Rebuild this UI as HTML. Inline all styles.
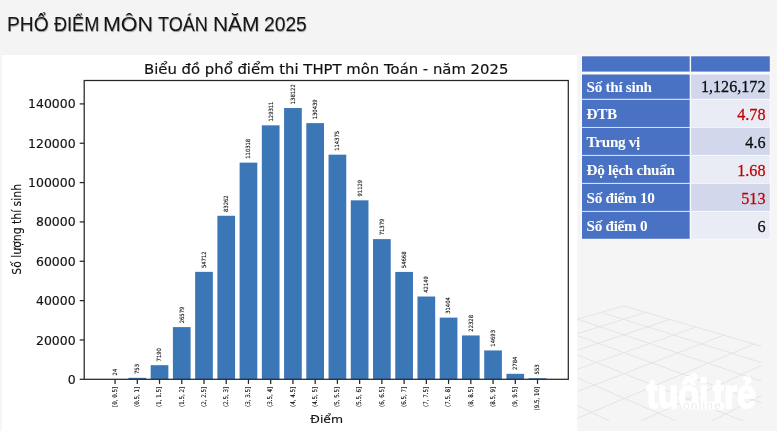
<!DOCTYPE html>
<html lang="vi"><head><meta charset="utf-8"><title>Phổ điểm môn Toán năm 2025</title>
<style>
html,body{margin:0;padding:0}
body{width:777px;height:431px;overflow:hidden;background:#f4f4f4;position:relative;font-family:"Liberation Sans",sans-serif}
h1{position:absolute;left:0;top:9.4px;margin:0;font-weight:400;font-size:19.6px;line-height:30px;color:#161616;white-space:nowrap;text-shadow:0.5px 0.7px 0.9px rgba(0,0,0,.4)}
h1 span{position:absolute;top:0;transform-origin:0 0;display:block}
svg{position:absolute;left:0;top:0}
</style></head><body>
<svg class="deco" width="777" height="431" viewBox="0 0 777 431">
<defs><clipPath id="gc"><rect x="577" y="290" width="184.5" height="131"/></clipPath></defs>
<rect x="577" y="48" width="200" height="383" fill="#f5f5f5"/>
<g clip-path="url(#gc)" stroke="#e4e4e4" stroke-width="1" fill="none">
<line x1="623.4" y1="305.9" x2="1004.5" y2="417.4"/>
<line x1="601.2" y1="312.3" x2="987.5" y2="433.5"/>
<line x1="577.6" y1="319.2" x2="968.8" y2="451.3"/>
<line x1="552.5" y1="326.5" x2="947.9" y2="471.1"/>
<line x1="525.6" y1="334.3" x2="924.5" y2="493.3"/>
<line x1="496.9" y1="342.6" x2="898.3" y2="518.2"/>
<line x1="466.1" y1="351.6" x2="868.4" y2="546.5"/>
<line x1="432.9" y1="361.2" x2="834.3" y2="578.8"/>
<line x1="397.1" y1="371.6" x2="794.9" y2="616.2"/>
<line x1="358.4" y1="382.8" x2="748.9" y2="659.8"/>
<line x1="316.4" y1="395.0" x2="694.5" y2="711.5"/>
<line x1="270.6" y1="408.3" x2="629.0" y2="773.6"/>
<line x1="623.4" y1="305.9" x2="270.6" y2="408.3"/>
<line x1="645.8" y1="312.4" x2="285.8" y2="423.8"/>
<line x1="669.9" y1="319.5" x2="302.6" y2="441.0"/>
<line x1="695.8" y1="327.1" x2="321.5" y2="460.2"/>
<line x1="723.7" y1="335.2" x2="342.8" y2="481.9"/>
<line x1="753.9" y1="344.1" x2="367.0" y2="506.6"/>
<line x1="786.8" y1="353.7" x2="394.7" y2="534.8"/>
<line x1="822.5" y1="364.1" x2="426.8" y2="567.5"/>
<line x1="861.6" y1="375.6" x2="464.4" y2="605.8"/>
<line x1="904.6" y1="388.2" x2="509.0" y2="651.3"/>
<line x1="952.0" y1="402.0" x2="562.8" y2="706.1"/>
<line x1="1004.5" y1="417.4" x2="629.0" y2="773.6"/>
</g>
<rect x="1.5" y="55" width="575.8" height="377" fill="#fff"/>
</svg>
<h1><span style="left:6.69px;transform:scaleX(0.979)">PHỔ</span> <span style="left:54.0px;transform:scaleX(0.925)">ĐIỂM</span> <span style="left:103.2px;transform:scaleX(1.095)">MÔN</span> <span style="left:157.8px;transform:scaleX(0.921)">TOÁN</span> <span style="left:213.4px;transform:scaleX(1.065)">NĂM</span> <span style="left:264.3px;transform:scaleX(0.981)">2025</span></h1>
<svg class="chart" width="777" height="431" viewBox="0 0 777 431" style="font-family:&quot;DejaVu Sans&quot;,&quot;Liberation Sans&quot;,sans-serif">
<rect x="106.20" y="379.25" width="17.70" height="0.05" fill="#3b77b6"/>
<rect x="128.44" y="377.82" width="17.70" height="1.48" fill="#3b77b6"/>
<rect x="150.67" y="365.18" width="17.70" height="14.12" fill="#3b77b6"/>
<rect x="172.91" y="327.10" width="17.70" height="52.20" fill="#3b77b6"/>
<rect x="195.14" y="271.85" width="17.70" height="107.45" fill="#3b77b6"/>
<rect x="217.38" y="215.77" width="17.70" height="163.53" fill="#3b77b6"/>
<rect x="239.61" y="162.64" width="17.70" height="216.66" fill="#3b77b6"/>
<rect x="261.84" y="125.33" width="17.70" height="253.97" fill="#3b77b6"/>
<rect x="284.08" y="108.03" width="17.70" height="271.27" fill="#3b77b6"/>
<rect x="306.31" y="123.12" width="17.70" height="256.18" fill="#3b77b6"/>
<rect x="328.55" y="154.67" width="17.70" height="224.63" fill="#3b77b6"/>
<rect x="350.78" y="200.32" width="17.70" height="178.98" fill="#3b77b6"/>
<rect x="373.02" y="239.11" width="17.70" height="140.19" fill="#3b77b6"/>
<rect x="395.25" y="271.93" width="17.70" height="107.37" fill="#3b77b6"/>
<rect x="417.49" y="296.52" width="17.70" height="82.78" fill="#3b77b6"/>
<rect x="439.72" y="317.62" width="17.70" height="61.68" fill="#3b77b6"/>
<rect x="461.96" y="335.45" width="17.70" height="43.85" fill="#3b77b6"/>
<rect x="484.19" y="350.44" width="17.70" height="28.86" fill="#3b77b6"/>
<rect x="506.43" y="373.83" width="17.70" height="5.47" fill="#3b77b6"/>
<rect x="528.66" y="378.21" width="17.70" height="1.09" fill="#3b77b6"/>
<rect x="84.2" y="80.5" width="484.09999999999997" height="298.8" fill="none" stroke="#262626" stroke-width="1.25"/>
<line x1="79.7" x2="84.2" y1="379.30" y2="379.30" stroke="#262626" stroke-width="1.25"/>
<text x="75.6" y="383.85" font-size="12.45" text-anchor="end" fill="#111" stroke="#111" stroke-width="0.15">0</text>
<line x1="79.7" x2="84.2" y1="339.96" y2="339.96" stroke="#262626" stroke-width="1.25"/>
<text x="75.6" y="344.51" font-size="12.45" text-anchor="end" fill="#111" stroke="#111" stroke-width="0.15">20000</text>
<line x1="79.7" x2="84.2" y1="300.61" y2="300.61" stroke="#262626" stroke-width="1.25"/>
<text x="75.6" y="305.16" font-size="12.45" text-anchor="end" fill="#111" stroke="#111" stroke-width="0.15">40000</text>
<line x1="79.7" x2="84.2" y1="261.27" y2="261.27" stroke="#262626" stroke-width="1.25"/>
<text x="75.6" y="265.82" font-size="12.45" text-anchor="end" fill="#111" stroke="#111" stroke-width="0.15">60000</text>
<line x1="79.7" x2="84.2" y1="221.93" y2="221.93" stroke="#262626" stroke-width="1.25"/>
<text x="75.6" y="226.48" font-size="12.45" text-anchor="end" fill="#111" stroke="#111" stroke-width="0.15">80000</text>
<line x1="79.7" x2="84.2" y1="182.59" y2="182.59" stroke="#262626" stroke-width="1.25"/>
<text x="75.6" y="187.14" font-size="12.45" text-anchor="end" fill="#111" stroke="#111" stroke-width="0.15">100000</text>
<line x1="79.7" x2="84.2" y1="143.24" y2="143.24" stroke="#262626" stroke-width="1.25"/>
<text x="75.6" y="147.79" font-size="12.45" text-anchor="end" fill="#111" stroke="#111" stroke-width="0.15">120000</text>
<line x1="79.7" x2="84.2" y1="103.90" y2="103.90" stroke="#262626" stroke-width="1.25"/>
<text x="75.6" y="108.45" font-size="12.45" text-anchor="end" fill="#111" stroke="#111" stroke-width="0.15">140000</text>
<line x1="115.05" x2="115.05" y1="379.3" y2="383.90000000000003" stroke="#262626" stroke-width="1.25"/>
<text transform="translate(116.80,386.80) rotate(-90) scale(0.865,1)" font-size="6.4" text-anchor="end" fill="#111" stroke="#111" stroke-width="0.12">[0, 0.5]</text>
<text transform="translate(116.95,375.45) rotate(-90) scale(0.905,1)" font-size="5.8" text-anchor="start" fill="#111" stroke="#111" stroke-width="0.12">24</text>
<line x1="137.28" x2="137.28" y1="379.3" y2="383.90000000000003" stroke="#262626" stroke-width="1.25"/>
<text transform="translate(139.03,386.80) rotate(-90) scale(0.865,1)" font-size="6.4" text-anchor="end" fill="#111" stroke="#111" stroke-width="0.12">(0.5, 1]</text>
<text transform="translate(139.19,374.02) rotate(-90) scale(0.905,1)" font-size="5.8" text-anchor="start" fill="#111" stroke="#111" stroke-width="0.12">753</text>
<line x1="159.52" x2="159.52" y1="379.3" y2="383.90000000000003" stroke="#262626" stroke-width="1.25"/>
<text transform="translate(161.27,386.80) rotate(-90) scale(0.865,1)" font-size="6.4" text-anchor="end" fill="#111" stroke="#111" stroke-width="0.12">(1, 1.5]</text>
<text transform="translate(161.42,361.38) rotate(-90) scale(0.905,1)" font-size="5.8" text-anchor="start" fill="#111" stroke="#111" stroke-width="0.12">7190</text>
<line x1="181.75" x2="181.75" y1="379.3" y2="383.90000000000003" stroke="#262626" stroke-width="1.25"/>
<text transform="translate(183.50,386.80) rotate(-90) scale(0.865,1)" font-size="6.4" text-anchor="end" fill="#111" stroke="#111" stroke-width="0.12">(1.5, 2]</text>
<text transform="translate(183.66,323.30) rotate(-90) scale(0.905,1)" font-size="5.8" text-anchor="start" fill="#111" stroke="#111" stroke-width="0.12">26579</text>
<line x1="203.99" x2="203.99" y1="379.3" y2="383.90000000000003" stroke="#262626" stroke-width="1.25"/>
<text transform="translate(205.74,386.80) rotate(-90) scale(0.865,1)" font-size="6.4" text-anchor="end" fill="#111" stroke="#111" stroke-width="0.12">(2, 2.5]</text>
<text transform="translate(205.89,268.05) rotate(-90) scale(0.905,1)" font-size="5.8" text-anchor="start" fill="#111" stroke="#111" stroke-width="0.12">54712</text>
<line x1="226.22" x2="226.22" y1="379.3" y2="383.90000000000003" stroke="#262626" stroke-width="1.25"/>
<text transform="translate(227.97,386.80) rotate(-90) scale(0.865,1)" font-size="6.4" text-anchor="end" fill="#111" stroke="#111" stroke-width="0.12">(2.5, 3]</text>
<text transform="translate(228.12,211.97) rotate(-90) scale(0.905,1)" font-size="5.8" text-anchor="start" fill="#111" stroke="#111" stroke-width="0.12">83262</text>
<line x1="248.46" x2="248.46" y1="379.3" y2="383.90000000000003" stroke="#262626" stroke-width="1.25"/>
<text transform="translate(250.21,386.80) rotate(-90) scale(0.865,1)" font-size="6.4" text-anchor="end" fill="#111" stroke="#111" stroke-width="0.12">(3, 3.5]</text>
<text transform="translate(250.36,158.84) rotate(-90) scale(0.905,1)" font-size="5.8" text-anchor="start" fill="#111" stroke="#111" stroke-width="0.12">110318</text>
<line x1="270.69" x2="270.69" y1="379.3" y2="383.90000000000003" stroke="#262626" stroke-width="1.25"/>
<text transform="translate(272.44,386.80) rotate(-90) scale(0.865,1)" font-size="6.4" text-anchor="end" fill="#111" stroke="#111" stroke-width="0.12">(3.5, 4]</text>
<text transform="translate(272.59,121.53) rotate(-90) scale(0.905,1)" font-size="5.8" text-anchor="start" fill="#111" stroke="#111" stroke-width="0.12">129311</text>
<line x1="292.93" x2="292.93" y1="379.3" y2="383.90000000000003" stroke="#262626" stroke-width="1.25"/>
<text transform="translate(294.68,386.80) rotate(-90) scale(0.865,1)" font-size="6.4" text-anchor="end" fill="#111" stroke="#111" stroke-width="0.12">(4, 4.5]</text>
<text transform="translate(294.83,104.23) rotate(-90) scale(0.905,1)" font-size="5.8" text-anchor="start" fill="#111" stroke="#111" stroke-width="0.12">138122</text>
<line x1="315.17" x2="315.17" y1="379.3" y2="383.90000000000003" stroke="#262626" stroke-width="1.25"/>
<text transform="translate(316.92,386.80) rotate(-90) scale(0.865,1)" font-size="6.4" text-anchor="end" fill="#111" stroke="#111" stroke-width="0.12">(4.5, 5]</text>
<text transform="translate(317.06,119.32) rotate(-90) scale(0.905,1)" font-size="5.8" text-anchor="start" fill="#111" stroke="#111" stroke-width="0.12">130439</text>
<line x1="337.40" x2="337.40" y1="379.3" y2="383.90000000000003" stroke="#262626" stroke-width="1.25"/>
<text transform="translate(339.15,386.80) rotate(-90) scale(0.865,1)" font-size="6.4" text-anchor="end" fill="#111" stroke="#111" stroke-width="0.12">(5, 5.5]</text>
<text transform="translate(339.30,150.87) rotate(-90) scale(0.905,1)" font-size="5.8" text-anchor="start" fill="#111" stroke="#111" stroke-width="0.12">114375</text>
<line x1="359.63" x2="359.63" y1="379.3" y2="383.90000000000003" stroke="#262626" stroke-width="1.25"/>
<text transform="translate(361.38,386.80) rotate(-90) scale(0.865,1)" font-size="6.4" text-anchor="end" fill="#111" stroke="#111" stroke-width="0.12">(5.5, 6]</text>
<text transform="translate(361.53,196.52) rotate(-90) scale(0.905,1)" font-size="5.8" text-anchor="start" fill="#111" stroke="#111" stroke-width="0.12">91129</text>
<line x1="381.87" x2="381.87" y1="379.3" y2="383.90000000000003" stroke="#262626" stroke-width="1.25"/>
<text transform="translate(383.62,386.80) rotate(-90) scale(0.865,1)" font-size="6.4" text-anchor="end" fill="#111" stroke="#111" stroke-width="0.12">(6, 6.5]</text>
<text transform="translate(383.77,235.31) rotate(-90) scale(0.905,1)" font-size="5.8" text-anchor="start" fill="#111" stroke="#111" stroke-width="0.12">71379</text>
<line x1="404.11" x2="404.11" y1="379.3" y2="383.90000000000003" stroke="#262626" stroke-width="1.25"/>
<text transform="translate(405.86,386.80) rotate(-90) scale(0.865,1)" font-size="6.4" text-anchor="end" fill="#111" stroke="#111" stroke-width="0.12">(6.5, 7]</text>
<text transform="translate(406.00,268.13) rotate(-90) scale(0.905,1)" font-size="5.8" text-anchor="start" fill="#111" stroke="#111" stroke-width="0.12">54668</text>
<line x1="426.34" x2="426.34" y1="379.3" y2="383.90000000000003" stroke="#262626" stroke-width="1.25"/>
<text transform="translate(428.09,386.80) rotate(-90) scale(0.865,1)" font-size="6.4" text-anchor="end" fill="#111" stroke="#111" stroke-width="0.12">(7, 7.5]</text>
<text transform="translate(428.24,292.72) rotate(-90) scale(0.905,1)" font-size="5.8" text-anchor="start" fill="#111" stroke="#111" stroke-width="0.12">42149</text>
<line x1="448.57" x2="448.57" y1="379.3" y2="383.90000000000003" stroke="#262626" stroke-width="1.25"/>
<text transform="translate(450.32,386.80) rotate(-90) scale(0.865,1)" font-size="6.4" text-anchor="end" fill="#111" stroke="#111" stroke-width="0.12">(7.5, 8]</text>
<text transform="translate(450.47,313.82) rotate(-90) scale(0.905,1)" font-size="5.8" text-anchor="start" fill="#111" stroke="#111" stroke-width="0.12">31404</text>
<line x1="470.81" x2="470.81" y1="379.3" y2="383.90000000000003" stroke="#262626" stroke-width="1.25"/>
<text transform="translate(472.56,386.80) rotate(-90) scale(0.865,1)" font-size="6.4" text-anchor="end" fill="#111" stroke="#111" stroke-width="0.12">(8, 8.5]</text>
<text transform="translate(472.71,331.65) rotate(-90) scale(0.905,1)" font-size="5.8" text-anchor="start" fill="#111" stroke="#111" stroke-width="0.12">22328</text>
<line x1="493.05" x2="493.05" y1="379.3" y2="383.90000000000003" stroke="#262626" stroke-width="1.25"/>
<text transform="translate(494.80,386.80) rotate(-90) scale(0.865,1)" font-size="6.4" text-anchor="end" fill="#111" stroke="#111" stroke-width="0.12">(8.5, 9]</text>
<text transform="translate(494.94,346.64) rotate(-90) scale(0.905,1)" font-size="5.8" text-anchor="start" fill="#111" stroke="#111" stroke-width="0.12">14693</text>
<line x1="515.28" x2="515.28" y1="379.3" y2="383.90000000000003" stroke="#262626" stroke-width="1.25"/>
<text transform="translate(517.03,386.80) rotate(-90) scale(0.865,1)" font-size="6.4" text-anchor="end" fill="#111" stroke="#111" stroke-width="0.12">(9, 9.5]</text>
<text transform="translate(517.18,370.03) rotate(-90) scale(0.905,1)" font-size="5.8" text-anchor="start" fill="#111" stroke="#111" stroke-width="0.12">2784</text>
<line x1="537.51" x2="537.51" y1="379.3" y2="383.90000000000003" stroke="#262626" stroke-width="1.25"/>
<text transform="translate(539.26,386.80) rotate(-90) scale(0.865,1)" font-size="6.4" text-anchor="end" fill="#111" stroke="#111" stroke-width="0.12">(9.5, 10]</text>
<text transform="translate(539.41,374.41) rotate(-90) scale(0.905,1)" font-size="5.8" text-anchor="start" fill="#111" stroke="#111" stroke-width="0.12">553</text>
<text transform="translate(326.2,74.0) scale(1,0.94)" font-size="14.85" text-anchor="middle" fill="#111" stroke="#111" stroke-width="0.18">Biểu đồ phổ điểm thi THPT môn Toán - năm 2025</text>
<text transform="translate(326.7,423.0) scale(1,0.89)" font-size="12.4" text-anchor="middle" fill="#111" stroke="#111" stroke-width="0.15">Điểm</text>
<text transform="translate(20.7,229.3) rotate(-90) scale(0.875,1)" font-size="12.4" text-anchor="middle" fill="#111" stroke="#111" stroke-width="0.15">Số lượng thí sinh</text>
</svg>
<svg class="tbl" width="777" height="431" viewBox="0 0 777 431" style="font-family:&quot;Liberation Serif&quot;,serif">
<rect x="581.0" y="55.3" width="189.79999999999995" height="184.3" fill="#fbfbfd"/>
<rect x="582.0" y="56.3" width="107.70000000000005" height="15.3" fill="#4a72c4"/>
<rect x="691.1" y="56.3" width="78.69999999999993" height="15.3" fill="#4a72c4"/>
<rect x="582.0" y="74.5" width="107.70000000000005" height="24.3" fill="#4a72c4"/>
<rect x="691.1" y="74.5" width="78.69999999999993" height="24.3" fill="#d2d7eb"/>
<text x="586.6" y="92.3" font-size="15.2" font-weight="700" fill="#fff" letter-spacing="-0.3">Số thí sinh</text>
<text transform="translate(765.5,92.4) scale(0.95,1)" font-size="17" text-anchor="end" fill="#0a0a0a" stroke="#0a0a0a" stroke-width="0.25">1,126,172</text>
<rect x="582.0" y="99.75" width="107.70000000000005" height="27.2" fill="#4a72c4"/>
<rect x="691.1" y="99.75" width="78.69999999999993" height="27.2" fill="#e9ebf5"/>
<text x="586.6" y="119.3" font-size="15.2" font-weight="700" fill="#fff" letter-spacing="-0.3">ĐTB</text>
<text transform="translate(765.5,119.6) scale(0.95,1)" font-size="17" text-anchor="end" fill="#c00000" stroke="#c00000" stroke-width="0.25">4.78</text>
<rect x="582.0" y="127.8" width="107.70000000000005" height="27.1" fill="#4a72c4"/>
<rect x="691.1" y="127.8" width="78.69999999999993" height="27.1" fill="#d2d7eb"/>
<text x="586.6" y="147.1" font-size="15.2" font-weight="700" fill="#fff" letter-spacing="-0.3">Trung vị</text>
<text transform="translate(765.5,147.7) scale(0.95,1)" font-size="17" text-anchor="end" fill="#0a0a0a" stroke="#0a0a0a" stroke-width="0.25">4.6</text>
<rect x="582.0" y="155.8" width="107.70000000000005" height="27.1" fill="#4a72c4"/>
<rect x="691.1" y="155.8" width="78.69999999999993" height="27.1" fill="#e9ebf5"/>
<text x="586.6" y="175.1" font-size="15.2" font-weight="700" fill="#fff" letter-spacing="-0.3">Độ lệch chuẩn</text>
<text transform="translate(765.5,176.0) scale(0.95,1)" font-size="17" text-anchor="end" fill="#c00000" stroke="#c00000" stroke-width="0.25">1.68</text>
<rect x="582.0" y="183.8" width="107.70000000000005" height="27.1" fill="#4a72c4"/>
<rect x="691.1" y="183.8" width="78.69999999999993" height="27.1" fill="#d2d7eb"/>
<text x="586.6" y="202.9" font-size="15.2" font-weight="700" fill="#fff" letter-spacing="-0.3">Số điểm 10</text>
<text transform="translate(765.5,203.9) scale(0.95,1)" font-size="17" text-anchor="end" fill="#c00000" stroke="#c00000" stroke-width="0.25">513</text>
<rect x="582.0" y="211.8" width="107.70000000000005" height="27.0" fill="#4a72c4"/>
<rect x="691.1" y="211.8" width="78.69999999999993" height="27.0" fill="#e9ebf5"/>
<text x="586.6" y="230.6" font-size="15.2" font-weight="700" fill="#fff" letter-spacing="-0.3">Số điểm 0</text>
<text transform="translate(765.5,232.0) scale(0.95,1)" font-size="17" text-anchor="end" fill="#0a0a0a" stroke="#0a0a0a" stroke-width="0.25">6</text>
</svg>
<svg class="wm" width="777" height="431" viewBox="0 0 777 431" style="font-family:&quot;Liberation Sans&quot;,sans-serif">
<g transform="translate(646.4,408.0) scale(0.845,1)"><text x="0" y="0" font-size="40" font-weight="700" fill="#fff" stroke="#fff" stroke-width="1.7" stroke-linejoin="round" word-spacing="-6">tuổi trẻ</text></g>
<rect x="683" y="401.6" width="39" height="8.0" fill="#fff"/>
<text x="683.2" y="409.4" font-size="11.5" fill="#ececec" letter-spacing="1.35">online</text>
</svg>
</body></html>
